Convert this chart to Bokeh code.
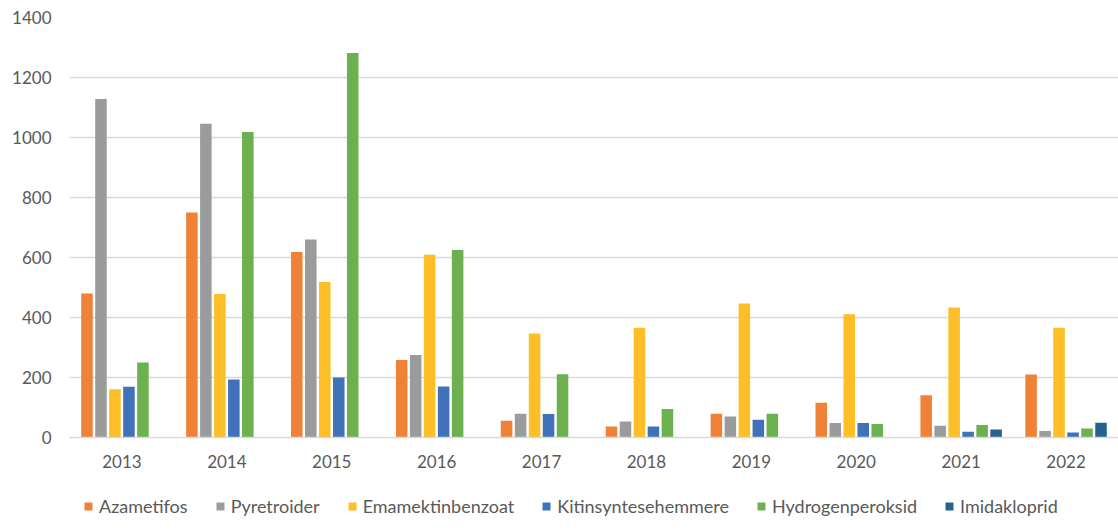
from bokeh.plotting import figure
from bokeh.layouts import column
from bokeh.models import FactorRange, Legend, LegendItem, ColumnDataSource, SingleIntervalTicker
from bokeh.transform import dodge
from bokeh.embed import file_html
from bokeh.resources import INLINE

years = ["2013", "2014", "2015", "2016", "2017", "2018", "2019", "2020", "2021", "2022"]
azametifos = [480, 750, 618, 258, 56, 37, 79, 116, 141, 210]
pyretroider = [1128, 1046, 660, 275, 79, 53, 70, 48, 39, 22]
emamektinbenzoat = [161, 478, 518, 609, 347, 366, 447, 411, 433, 366]
kitinsyntesehemmere = [169, 193, 200, 170, 78, 37, 59, 48, 19, 17]
hydrogenperoksid = [250, 1018, 1282, 625, 211, 95, 79, 45, 42, 30]
imidakloprid = [0, 0, 0, 0, 0, 0, 0, 0, 27, 49]

series_names = ["Azametifos", "Pyretroider", "Emamektinbenzoat", "Kitinsyntesehemmere",
                "Hydrogenperoksid", "Imidakloprid"]
series_vals = [azametifos, pyretroider, emamektinbenzoat, kitinsyntesehemmere,
               hydrogenperoksid, imidakloprid]
colors = ["#F08238", "#9A9C9C", "#FDBE28", "#3F72B8", "#6CB050", "#26628F"]

data = {"year": years}
for n, v in zip(series_names, series_vals):
    data[n] = v
src = ColumnDataSource(data)

font = "Lato"
fs = "17px"
tcol = "#595959"

p = figure(x_range=FactorRange(*years, range_padding=0), y_range=(0, 1400),
           width=1118, height=480, output_backend="svg", toolbar_location=None,
           min_border_left=69, min_border_right=0, min_border_top=17, min_border_bottom=43)

pitch = 0.1333
for i, (n, c) in enumerate(zip(series_names, colors)):
    off = (i - 2.5) * pitch
    p.vbar(x=dodge("year", off, range=p.x_range), top=n, width=0.11, source=src,
           fill_color=c, line_color=None)

p.outline_line_color = None
p.background_fill_color = "white"
p.border_fill_color = "white"
p.xgrid.grid_line_color = None
p.ygrid.grid_line_color = "#D9D9D9"
p.ygrid.grid_line_width = 1.3
p.yaxis.ticker = SingleIntervalTicker(interval=200)
p.yaxis.axis_line_color = None
p.yaxis.major_tick_line_color = None
p.yaxis.minor_tick_line_color = None
p.yaxis.major_label_text_font = font
p.yaxis.major_label_text_font_size = fs
p.yaxis.major_label_text_color = tcol
p.yaxis.major_label_standoff = 12
p.xaxis.axis_line_color = "#D9D9D9"
p.xaxis.axis_line_width = 1.3
p.xaxis.major_tick_line_color = None
p.xaxis.minor_tick_line_color = None
p.xaxis.major_label_text_font = font
p.xaxis.major_label_text_font_size = fs
p.xaxis.major_label_text_color = tcol
p.xaxis.major_label_standoff = 11

# legend strip
lg = figure(x_range=(0, 1), y_range=(0, 1), width=1118, height=51, output_backend="svg",
            toolbar_location=None, min_border=0, min_border_left=0, min_border_right=0,
            min_border_top=0, min_border_bottom=0)
lg.axis.visible = False
lg.grid.visible = False
lg.outline_line_color = None
lg.background_fill_color = "white"
lg.border_fill_color = "white"
items = []
for n, c in zip(series_names, colors):
    r = lg.vbar(x=[5], top=[1], width=0.1, fill_color=c, line_color=None)
    items.append(LegendItem(label=n, renderers=[r]))

legend = Legend(items=items, orientation="horizontal", location=(14, 14),
                glyph_width=10, glyph_height=10, label_standoff=6, spacing=27,
                label_text_font=font, label_text_font_size="18px",
                label_text_color=tcol, border_line_color=None,
                background_fill_alpha=0, padding=0, margin=0)
lg.add_layout(legend)

layout = column(p, lg, spacing=0)
open("out.html", "w").write(file_html(layout, INLINE))
